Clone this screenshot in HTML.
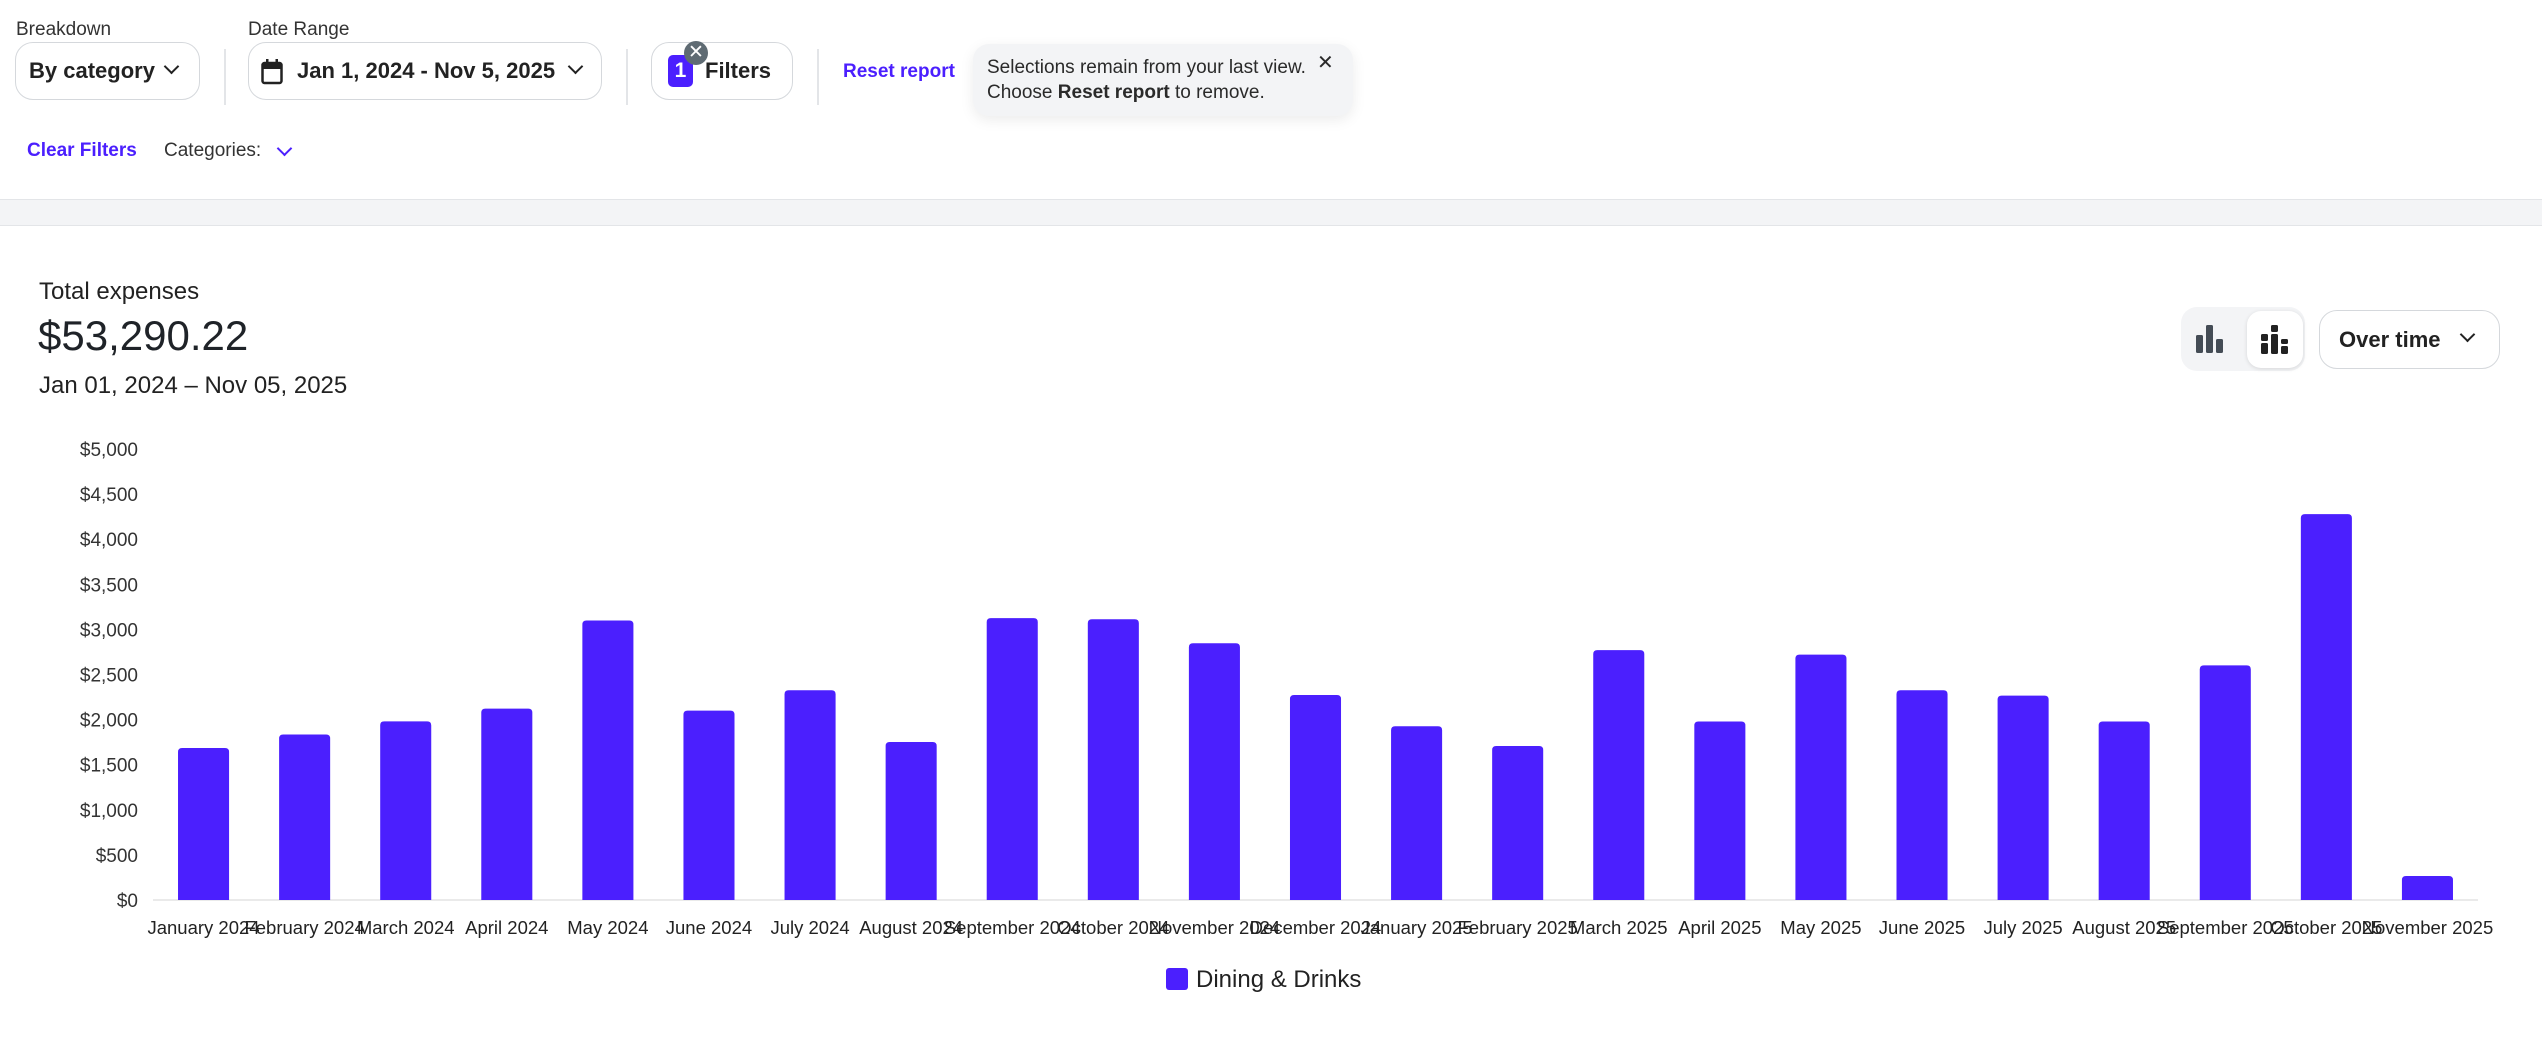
<!DOCTYPE html>
<html><head><meta charset="utf-8"><style>
*{box-sizing:border-box;margin:0;padding:0}
body{width:2542px;height:1045px;background:#fff;font-family:"Liberation Sans",sans-serif;color:#1f2328;position:relative;overflow:hidden}
.a{position:absolute}
.lbl{font-size:19px;color:#333}
.box{position:absolute;border:1.5px solid #d5d8dc;border-radius:18px;background:#fff;display:flex;align-items:center;font-size:22px;font-weight:600;color:#222}
.sep{position:absolute;width:1.5px;background:#e3e5e8;top:49px;height:56px}
.chev{display:inline-block;width:11px;height:11px;border-right:2.5px solid #222;border-bottom:2.5px solid #222;transform:rotate(45deg)}
</style></head><body>
<div class="a lbl" style="left:16px;top:19px">Breakdown</div>
<div class="box" style="left:15px;top:42px;width:185px;height:58px;padding-left:13px">By category<span class="chev" style="position:absolute;right:22px;top:18px"></span></div>
<div class="sep" style="left:224px"></div>
<div class="a lbl" style="left:248px;top:19px">Date Range</div>
<div class="box" style="left:248px;top:42px;width:354px;height:58px;padding-left:48px">
<svg class="a" style="left:12px;top:16px" width="22" height="26" viewBox="0 0 22 26"><rect x="1.5" y="4" width="19" height="20" rx="2" fill="none" stroke="#222" stroke-width="2.5"/><rect x="1.5" y="4" width="19" height="6" fill="#222"/><rect x="5" y="0" width="2.5" height="6" fill="#222"/><rect x="14.5" y="0" width="2.5" height="6" fill="#222"/></svg>
Jan 1, 2024 - Nov 5, 2025<span class="chev" style="position:absolute;right:20px;top:18px"></span></div>
<div class="sep" style="left:626px"></div>
<div class="box" style="left:651px;top:42px;width:142px;height:58px;padding-left:53px">Filters</div>
<div class="a" style="left:668px;top:55px;width:25px;height:32px;background:#4b1ffe;border-radius:5px;color:#fff;font-weight:700;font-size:21px;text-align:center;line-height:32px">1</div>
<div class="a" style="left:684px;top:41px;width:24px;height:24px;border-radius:50%;background:#5f6b73;color:#fff;font-size:19px;text-align:center;line-height:23px">✕</div>
<div class="sep" style="left:817px"></div>
<div class="a" style="left:843px;top:61px;font-size:19px;font-weight:600;color:#4b1ffe">Reset report</div>
<div class="a" style="left:973px;top:44px;width:380px;height:72px;background:#f3f4f6;border-radius:16px;box-shadow:0 4px 14px rgba(0,0,0,0.08);font-size:19px;color:#2a2a2a;padding:11px 0 0 14px;line-height:25px">Selections remain from your last view.<br>Choose <b>Reset report</b> to remove.<span class="a" style="left:344px;top:7px;font-size:20px">✕</span></div>
<div class="a" style="left:27px;top:140px;font-size:19px;font-weight:700;color:#4b1ffe">Clear Filters</div>
<div class="a" style="left:164px;top:140px;font-size:19px;color:#333">Categories:</div>
<span class="a chev" style="left:279px;top:143px;border-color:#4b1ffe"></span>
<div class="a" style="left:0;top:199px;width:2542px;height:27px;background:#f3f4f6;border-top:1.5px solid #e3e5e8;border-bottom:1.5px solid #e3e5e8"></div>
<div class="a" style="left:39px;top:278px;font-size:24px;color:#222">Total expenses</div>
<div class="a" style="left:38px;top:312px;font-size:42px;color:#1f2328">$53,290.22</div>
<div class="a" style="left:39px;top:372px;font-size:24px;color:#222">Jan 01, 2024 – Nov 05, 2025</div>
<div class="a" style="left:2181px;top:307px;width:124px;height:64px;background:#f3f4f6;border-radius:16px"></div>
<svg class="a" style="left:2196px;top:325px" width="30" height="28" viewBox="0 0 30 28"><rect x="0" y="10" width="7" height="18" rx="1.5" fill="#444c55"/><rect x="10" y="0" width="7" height="28" rx="1.5" fill="#444c55"/><rect x="20" y="14" width="7" height="14" rx="1.5" fill="#444c55"/></svg>
<div class="a" style="left:2247px;top:311px;width:56px;height:57px;background:#fff;border-radius:14px;box-shadow:0 1px 4px rgba(0,0,0,0.12)"><svg class="a" style="left:14px;top:14px" width="30" height="30" viewBox="0 0 30 30"><rect x="0" y="9" width="7" height="7" rx="1.5" fill="#222"/><rect x="0" y="18" width="7" height="11" rx="1.5" fill="#222"/><rect x="10" y="0" width="7" height="7" rx="1.5" fill="#222"/><rect x="10" y="9" width="7" height="20" rx="1.5" fill="#222"/><rect x="20" y="14" width="7" height="5" rx="1.5" fill="#222"/><rect x="20" y="21" width="7" height="8" rx="1.5" fill="#222"/></svg></div>
<div class="box" style="left:2319px;top:310px;width:181px;height:59px;padding-left:19px">Over time<span class="chev" style="position:absolute;right:26px;top:18px"></span></div>
<svg id="chart" class="a" style="left:0;top:420px" width="2542" height="625"></svg>
<script>
const categories=["January 2024","February 2024","March 2024","April 2024","May 2024","June 2024","July 2024","August 2024","September 2024","October 2024","November 2024","December 2024","January 2025","February 2025","March 2025","April 2025","May 2025","June 2025","July 2025","August 2025","September 2025","October 2025","November 2025"];
const diningValues=[1685,1835,1981,2122,3099,2100,2326,1752,3125,3112,2847,2273,1926,1708,2770,1979,2721,2326,2266,1979,2601,4278,266];
const yTicks=[0,500,1000,1500,2000,2500,3000,3500,4000,4500,5000];
const yTickLabels=["$0","$500","$1,000","$1,500","$2,000","$2,500","$3,000","$3,500","$4,000","$4,500","$5,000"];
const seriesName="Dining & Drinks";
const svg=document.getElementById('chart');
const NS="http://www.w3.org/2000/svg";
const X0=153,X1=2478,Y0=480,Y1=29,YMAX=5000;
const band=(X1-X0)/categories.length;
function xScale(i){return X0+band*i;}
function yScale(v){return Y0-(v/YMAX)*(Y0-Y1);}
function mk(t,a){const e=document.createElementNS(NS,t);for(const k in a)e.setAttribute(k,a[k]);svg.appendChild(e);return e;}
yTicks.forEach((v,i)=>{const t=mk('text',{x:138,y:yScale(v)+7,'text-anchor':'end','font-size':19,fill:'#333','font-family':'Liberation Sans, sans-serif'});


t.textContent=yTickLabels[i];});
const base=mk('line',{x1:X0,x2:X1,y1:Y0,y2:Y0,stroke:'#e3e3e3','stroke-width':1.5});


diningValues.forEach((v,i)=>{const w=band*0.505;const x=xScale(i)+(band-w)/2;const y=yScale(v);const h=Y0-y;const r=Math.min(4,h/2);
const p=mk('path',{d:`M${x},${Y0}V${y+r}Q${x},${y} ${x+r},${y}H${x+w-r}Q${x+w},${y} ${x+w},${y+r}V${Y0}Z`,fill:'#4b1ffe'});


const t=mk('text',{x:xScale(i)+band/2,y:514,'text-anchor':'middle','font-size':18.5,fill:'#222','font-family':'Liberation Sans, sans-serif'});


t.textContent=categories[i];});
const lg=mk('rect',{x:1166,y:548,width:22,height:22,rx:3,fill:'#4b1ffe'});


const lt=mk('text',{x:1196,y:567,'font-size':24,fill:'#222','font-family':'Liberation Sans, sans-serif'});


lt.textContent=seriesName;
</script>
</body></html>
